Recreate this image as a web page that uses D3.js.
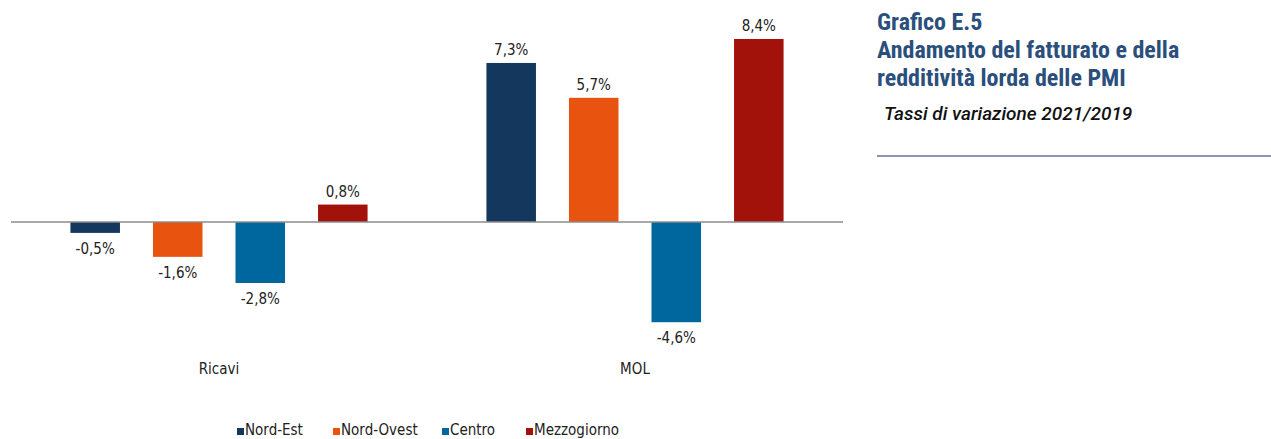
<!doctype html>
<html>
<head>
<meta charset="UTF-8">
<title>Grafico E.5</title>
<script src="https://d3js.org/d3.v7.min.js"></script>
<style>
  body { margin: 0; background: #fff; }
</style>
</head>
<body>
<svg id="chart" width="1271" height="439"></svg>
<script>
var groups = ["Ricavi", "MOL"];
var series = ["Nord-Est", "Nord-Ovest", "Centro", "Mezzogiorno"];
var ricavi = [-0.5, -1.6, -2.8, 0.8];
var mol = [7.3, 5.7, -4.6, 8.4];
var colors = ["#14375e", "#e8540f", "#00679e", "#a3110b"];

var values = [ricavi, mol];
var rows = [];
groups.forEach(function(g, i) {
    series.forEach(function(s, j) {
        rows.push({group: g, series: s, value: values[i][j]});
    });
});

var svg = d3.select("#chart");
var labFont = "'Liberation Sans Narrow', 'DejaVu Sans Condensed', Roboto, sans-serif";

var x0 = d3.scaleBand().domain(groups).range([11, 843]).padding(0);
var x1 = d3.scaleBand().domain(series).range([0, x0.bandwidth()])
            .paddingInner(0.4).paddingOuter(0.72);
var y = d3.scaleLinear().domain([0, 8.4]).range([222, 39]);
var color = d3.scaleOrdinal().domain(series).range(colors);

function fmt(v) { return d3.format(".1f")(v).replace(".", ",").replace("\u2212", "-") + "%"; }

svg.selectAll("rect.bar")
    .data(rows)
    .enter().append("rect")
    .attr("class", "bar")
    .attr("x", function(d) { return x0(d.group) + x1(d.series); })
    .attr("width", x1.bandwidth())
    .attr("y", function(d) { return y(Math.max(0, d.value)); })
    .attr("height", function(d) { return Math.abs(y(d.value) - y(0)); })
    .attr("fill", function(d) { return color(d.series); });

// zero line
svg.append("line")
    .attr("x1", 11).attr("x2", 843)
    .attr("y1", y(0)).attr("y2", y(0))
    .attr("stroke", "#8c8c8c").attr("stroke-width", 1.5);

svg.selectAll("text.val")
    .data(rows)
    .enter().append("text")
    .attr("class", "val")
    .attr("x", function(d) { return x0(d.group) + x1(d.series) + x1.bandwidth() / 2; })
    .attr("y", function(d) { return d.value >= 0 ? y(d.value) - 8 : y(d.value) + 21; })
    .attr("text-anchor", "middle")
    .attr("font-family", labFont)
    .attr("font-size", 15)
    .attr("fill", "#222")
    .text(function(d) { return fmt(d.value); });

svg.selectAll("text.grp")
    .data(groups)
    .enter().append("text")
    .attr("x", function(d) { return x0(d) + x0.bandwidth() / 2; })
    .attr("y", 374)
    .attr("text-anchor", "middle")
    .attr("font-family", labFont)
    .attr("font-size", 15)
    .attr("fill", "#222")
    .text(function(d) { return d; });

// legend
var legX = [237, 333, 442, 526];
var leg = svg.selectAll("g.leg")
    .data(series)
    .enter().append("g")
    .attr("transform", function(d, i) { return "translate(" + legX[i] + ",430)"; });
leg.append("rect")
    .attr("x", 0).attr("y", -2).attr("width", 7).attr("height", 7)
    .attr("fill", function(d) { return color(d); });
leg.append("text")
    .attr("x", 8).attr("y", 5)
    .attr("font-family", labFont)
    .attr("font-size", 15)
    .attr("fill", "#222")
    .text(function(d) { return d; });

// title block
var titleLines = ["Grafico E.5", "Andamento del fatturato e della", "redditività lorda delle PMI"];
svg.selectAll("text.title")
    .data(titleLines)
    .enter().append("text")
    .attr("x", 877)
    .attr("y", function(d, i) { return 30 + i * 28; })
    .attr("font-family", "Roboto, sans-serif")
    .attr("font-weight", "bold")
    .attr("font-size", 24)
    .attr("font-stretch", "condensed")
    .attr("fill", "#2b4f7c")
    .text(function(d) { return d; });

svg.append("text")
    .attr("x", 884).attr("y", 120)
    .attr("font-family", "Roboto, sans-serif")
    .attr("font-style", "italic")
    .attr("font-weight", 500)
    .attr("font-size", 19)
    .attr("fill", "#111")
    .text("Tassi di variazione 2021/2019");

svg.append("line")
    .attr("x1", 877).attr("x2", 1271)
    .attr("y1", 156).attr("y2", 156)
    .attr("stroke", "#8797b4").attr("stroke-width", 2);
</script>
</body>
</html>
